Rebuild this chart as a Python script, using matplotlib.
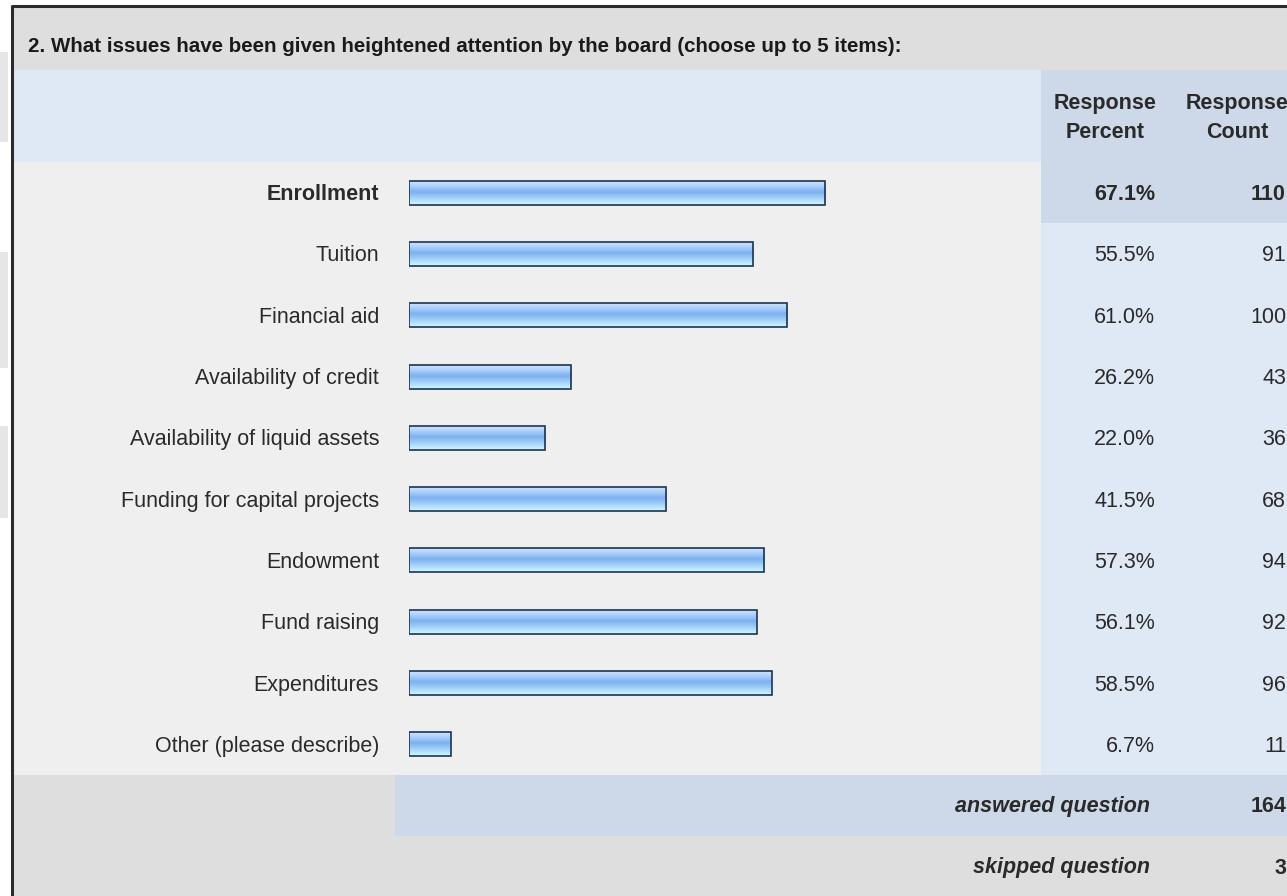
import matplotlib.pyplot as plt
import numpy as np
from matplotlib.colors import LinearSegmentedColormap
from matplotlib.patches import Rectangle

plt.rcParams["font.family"] = ["Liberation Sans", "DejaVu Sans"]

title = "2. What issues have been given heightened attention by the board (choose up to 5 items):"
issues = [
    "Enrollment",
    "Tuition",
    "Financial aid",
    "Availability of credit",
    "Availability of liquid assets",
    "Funding for capital projects",
    "Endowment",
    "Fund raising",
    "Expenditures",
    "Other (please describe)",
]
percent = [67.1, 55.5, 61.0, 26.2, 22.0, 41.5, 57.3, 56.1, 58.5, 6.7]
count = [110, 91, 100, 43, 36, 68, 94, 92, 96, 11]
answered = 164
skipped = 3

W, H = 1287, 896
fig = plt.figure(figsize=(W / 100, H / 100), dpi=100)
fig.patch.set_facecolor("white")

# page-level axes in pixel units, y pointing down
page = fig.add_axes([0, 0, 1, 1])
page.set_xlim(0, W)
page.set_ylim(H, 0)
page.axis("off")

GRAY = "#dedede"
ROW_BG = "#efefef"
LIGHT_BLUE = "#dfe8f5"
MID_BLUE = "#cdd9e8"
INK = "#2a2a2a"

row_top, row_h = 162, 61.3
rows_bottom = row_top + row_h * len(issues)
col_split = 1041


def box(x0, y0, x1, y1, color):
    page.add_patch(Rectangle((x0, y0), x1 - x0, y1 - y0, facecolor=color,
                             edgecolor="none", zorder=0))


# stray page blocks to the left of the panel
for y0, y1 in [(52, 142), (252, 368), (426, 518)]:
    box(0, y0, 8, y1, "#e6e6e6")

box(12, 6, W, 70, GRAY)
box(12, 70, col_split, row_top, LIGHT_BLUE)
box(col_split, 70, W, row_top, MID_BLUE)
box(12, row_top, col_split, rows_bottom, ROW_BG)
box(col_split, row_top, W, rows_bottom, LIGHT_BLUE)
box(col_split, row_top, W, row_top + row_h, MID_BLUE)
box(12, rows_bottom, 395, 836, GRAY)
box(395, rows_bottom, W, 836, MID_BLUE)
box(12, 836, W, H, GRAY)

page.plot([12, 12, W], [H, 6, 6], color="#2b2b2b", lw=2.2, zorder=5,
          solid_capstyle="butt")

fs = 15.5
page.text(28, 46, title, fontsize=14.8, fontweight="bold", va="center",
          color="#1a1a1a")
page.text(1105, 103, "Response", fontsize=fs, fontweight="bold",
          ha="center", va="center", color=INK)
page.text(1105, 133, "Percent", fontsize=fs, fontweight="bold",
          ha="center", va="center", color=INK)
page.text(1237, 103, "Response", fontsize=fs, fontweight="bold",
          ha="center", va="center", color=INK)
page.text(1237, 133, "Count", fontsize=fs, fontweight="bold",
          ha="center", va="center", color=INK)

for i, (name, p, c) in enumerate(zip(issues, percent, count)):
    y = row_top + row_h * (i + 0.5) + 2
    weight = "bold" if i == 0 else "normal"
    page.text(379, y, name, fontsize=fs, fontweight=weight, ha="right",
              va="center", color=INK)
    page.text(1155, y, f"{p:.1f}%", fontsize=fs, fontweight=weight,
              ha="right", va="center", color=INK)
    page.text(1286, y, str(c), fontsize=fs, fontweight=weight, ha="right",
              va="center", color=INK)

y_ans = (rows_bottom + 836) / 2 + 1
y_skip = (836 + H) / 2 + 2
page.text(1150, y_ans, "answered question", fontsize=fs, style="italic",
          fontweight="bold", ha="right", va="center", color=INK)
page.text(1286, y_ans, str(answered), fontsize=fs, fontweight="bold",
          ha="right", va="center", color=INK)
page.text(1150, y_skip, "skipped question", fontsize=fs, style="italic",
          fontweight="bold", ha="right", va="center", color=INK)
page.text(1286, y_skip, str(skipped), fontsize=fs, fontweight="bold",
          ha="right", va="center", color=INK)

# bar axes: 0-100 % across 620 px starting at x=409
bar_ax = fig.add_axes([409 / W, (H - rows_bottom) / H, 620 / W,
                       (rows_bottom - row_top) / H])
bar_ax.axis("off")
bar_ax.patch.set_alpha(0)

shine = LinearSegmentedColormap.from_list(
    "shine",
    [(0.0, "#cde3fd"), (0.18, "#b0d2fb"), (0.45, "#7db1f0"),
     (0.58, "#8fc0f4"), (0.85, "#b9e3fd"), (1.0, "#cbfbff")],
)
grad = np.linspace(0, 1, 64).reshape(-1, 1)
bar_h = 24 / row_h
ypos = np.arange(len(issues))
for y, p in zip(ypos, percent):
    bar_ax.imshow(grad, cmap=shine, aspect="auto", interpolation="bilinear",
                  extent=(0, p, y + bar_h / 2, y - bar_h / 2), zorder=1)
bar_ax.barh(ypos, percent, height=bar_h, facecolor="none",
            edgecolor="#1f3450", linewidth=1.2, zorder=2)
bar_ax.set_xlim(0, 100)
bar_ax.set_ylim(len(issues) - 0.5, -0.5)

fig.savefig("out.png", dpi=100)
